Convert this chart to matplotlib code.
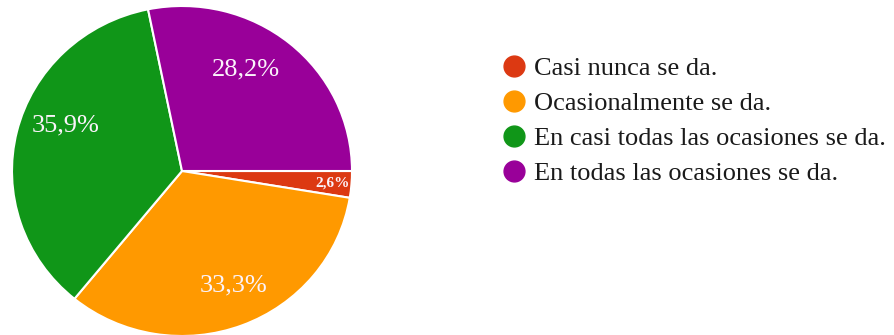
import numpy as np
import matplotlib
matplotlib.use("Agg")
import matplotlib.pyplot as plt
from matplotlib.lines import Line2D

categories = [
    "Casi nunca se da.",
    "Ocasionalmente se da.",
    "En casi todas las ocasiones se da.",
    "En todas las ocasiones se da.",
]
percentages = [2.6, 33.3, 35.9, 28.2]
pct_labels = ["2,6%", "33,3%", "35,9%", "28,2%"]
colors = ["#dc3912", "#ff9900", "#109618", "#990099"]

W, H = 894, 335
dpi = 100
fig = plt.figure(figsize=(W / dpi, H / dpi), dpi=dpi)
fig.patch.set_facecolor("white")

# pie box in pixels: centre (182,171), radii 170 x 165
cx, cy, rx, ry = 182, 171, 170, 165
ax = fig.add_axes([(cx - rx) / W, (H - cy - ry) / H, 2 * rx / W, 2 * ry / H])
ax.axis("off")

wedges, _ = ax.pie(
    percentages,
    colors=colors,
    startangle=0,
    counterclock=False,
    radius=1,
    wedgeprops=dict(edgecolor="white", linewidth=1.5),
)
ax.set_xlim(-1, 1)
ax.set_ylim(-1, 1)
ax.set_aspect("auto")

label_r = [0.89, 0.76, 0.74, 0.72]
label_size = [11, 19, 19, 19]
label_shift = [0, 3, -8, 8]
for w, txt, r, s, d in zip(wedges, pct_labels, label_r, label_size, label_shift):
    mid = np.deg2rad((w.theta1 + w.theta2) / 2 + d)
    ax.text(r * np.cos(mid), r * np.sin(mid), txt, ha="center", va="center",
            color="#fbf3fb", fontsize=s, family="Liberation Serif",
            fontweight="bold" if s < 12 else "normal")

handles = [Line2D([], [], marker="o", linestyle="none", markersize=15,
                  markerfacecolor=c, markeredgecolor=c) for c in colors]
fig.legend(handles, categories, loc="upper left",
           bbox_to_anchor=(501 / W, 1 - 57 / H), frameon=False,
           prop=dict(family="Liberation Serif", size=19),
           handletextpad=0.25, labelspacing=0.43, handlelength=1.0,
           borderaxespad=0, borderpad=0, labelcolor="#1a1a1a")

fig.savefig("out.png", dpi=dpi, facecolor="white")
